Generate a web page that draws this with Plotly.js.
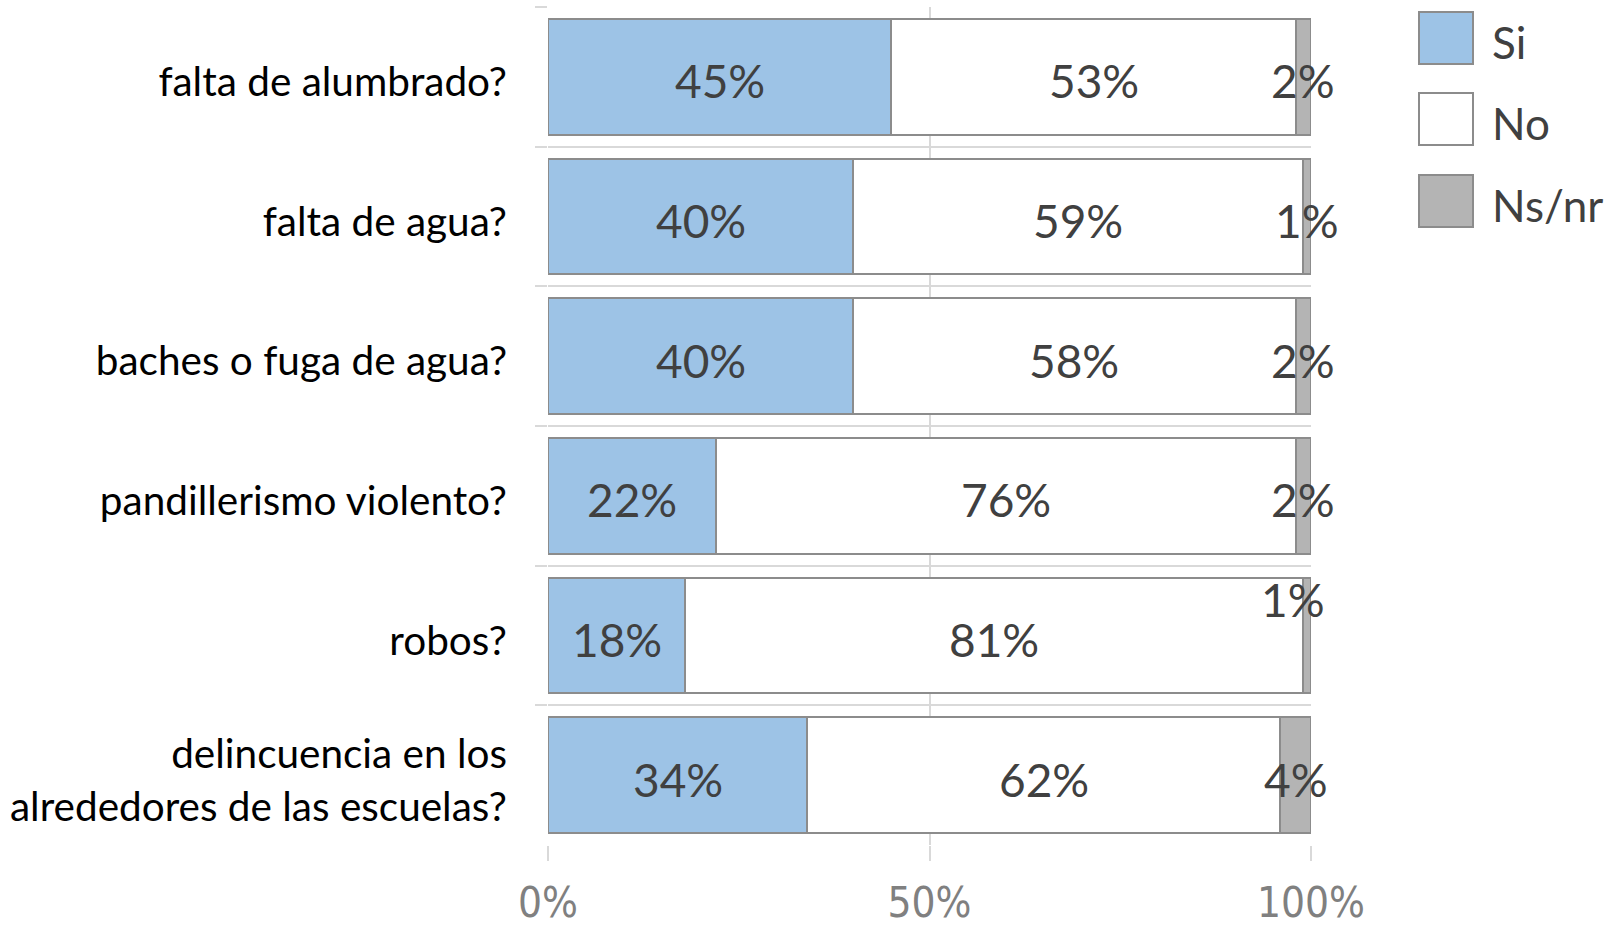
<!DOCTYPE html>
<html>
<head>
<meta charset="utf-8">
<script src="https://cdn.plot.ly/plotly-3.0.1.min.js"></script>
<style>
  html, body { margin: 0; padding: 0; background: #fff; }
  #chart { width: 1614px; height: 927px; }
</style>
</head>
<body>
<div id="chart"></div>
<script>
// Survey answers, top to bottom
const categories = [
  "falta de alumbrado?",
  "falta de agua?",
  "baches o fuga de agua?",
  "pandillerismo violento?",
  "robos?",
  "delincuencia en los<br>alrededores de las escuelas?"
];
const siValues = [45, 40, 40, 22, 18, 34];
const noValues = [53, 59, 58, 76, 81, 62];
const nsValues = [2, 1, 2, 2, 1, 4];
const seriesNames = ["Si", "No", "Ns/nr"];
const xTickValues = [0, 50, 100];
const xTickLabels = ["0%", "50%", "100%"];

const seriesColors = ["#9dc3e6", "#ffffff", "#b4b4b4"];
const edgeColor = "#8c8c8c";
const gridColor = "#d9d9d9";
const labelColor = "#404040";
const textFont = "Lato, 'Open Sans', sans-serif";

// Plot area in pixels (used to place the hand made legend)
const plotLeft = 548, plotRight = 1311, plotTop = 7, plotBottom = 845;
const pxToX = (px) => (px - plotLeft) / (plotRight - plotLeft);
const pxToY = (py) => (plotBottom - py) / (plotBottom - plotTop);

function barTrace(values, idx) {
  return {
    type: "bar",
    orientation: "h",
    name: seriesNames[idx],
    y: categories,
    x: values,
    marker: { color: seriesColors[idx], line: { color: edgeColor, width: 2 } },
    hoverinfo: "skip",
    showlegend: false,
  };
}

const data = [
  barTrace(siValues, 0),
  barTrace(noValues, 1),
  barTrace(nsValues, 2),
];

// Value labels centred on each segment, a little below the bar middle
const annotations = [];
function addLabels(values, starts, xShift, yShift) {
  values.forEach((v, i) => {
    annotations.push({
      x: starts[i] + v / 2,
      y: categories[i],
      xref: "x",
      yref: "y",
      text: v + "%",
      showarrow: false,
      xshift: xShift[i],
      yshift: yShift[i],
      font: { family: textFont, size: 46, color: labelColor },
    });
  });
}
const zeros = categories.map(() => 0);
const lowered = categories.map(() => -4);
addLabels(siValues, zeros, zeros, lowered);
addLabels(noValues, siValues, zeros, lowered);
// the robos Ns/nr label was moved up and left in the original
addLabels(
  nsValues,
  siValues.map((v, i) => v + noValues[i]),
  [0, 0, 0, 0, -14, 0],
  [-4, -4, -4, -4, 36, -4]
);

// Legend drawn by hand to get the large square swatches
const shapes = [];
const legendTop = [12, 93, 175];
seriesNames.forEach((name, i) => {
  const y0 = legendTop[i];
  shapes.push({
    type: "rect",
    xref: "paper",
    yref: "paper",
    x0: pxToX(1419),
    x1: pxToX(1473),
    y0: pxToY(y0),
    y1: pxToY(y0 + 52),
    fillcolor: seriesColors[i],
    line: { color: edgeColor, width: 2 },
  });
  annotations.push({
    xref: "paper",
    yref: "paper",
    x: pxToX(1490),
    y: pxToY(y0 + 30),
    xanchor: "left",
    yanchor: "middle",
    text: name,
    showarrow: false,
    font: { family: textFont, size: 44, color: labelColor },
  });
});

const layout = {
  width: 1614,
  height: 927,
  margin: { l: plotLeft, r: 1614 - plotRight, t: plotTop, b: 927 - plotBottom, pad: 0 },
  paper_bgcolor: "#ffffff",
  plot_bgcolor: "#ffffff",
  barmode: "stack",
  bargap: 0.17,
  showlegend: false,
  xaxis: {
    range: [0, 100],
    tickvals: xTickValues,
    ticktext: xTickLabels,
    showgrid: true,
    gridcolor: gridColor,
    gridwidth: 2,
    zeroline: false,
    showline: false,
    ticks: "outside",
    ticklen: 15,
    tickwidth: 2,
    tickcolor: gridColor,
    ticklabelstandoff: 6,
    tickfont: { family: "'Liberation Sans Narrow', 'DejaVu Sans Condensed', sans-serif", size: 42, color: "#808080" },
    fixedrange: true,
  },
  yaxis: {
    autorange: "reversed",
    type: "category",
    tickson: "boundaries",
    ticks: "outside",
    ticklen: 12,
    tickwidth: 2,
    tickcolor: gridColor,
    showgrid: true,
    gridcolor: gridColor,
    gridwidth: 2,
    zeroline: false,
    showline: false,
    ticklabelstandoff: 40,
    ticklabelshift: -5,
    tickfont: { family: textFont, size: 40.5, color: "#000000" },
    fixedrange: true,
  },
  annotations: annotations,
  shapes: shapes,
};

Plotly.newPlot("chart", data, layout, { displayModeBar: false, staticPlot: true });
</script>
</body>
</html>
